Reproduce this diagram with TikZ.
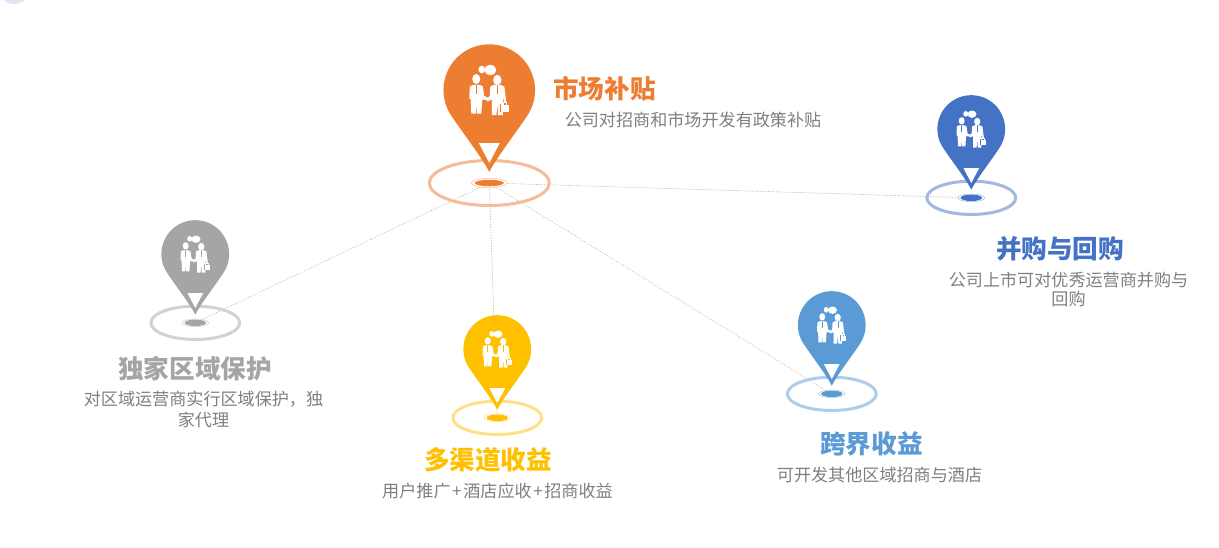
\documentclass[tikz,border=0pt]{standalone}
\usepackage{fontspec}
\setmainfont{Noto Sans CJK SC}
\usetikzlibrary{shapes.geometric,backgrounds}
\definecolor{cOrange}{HTML}{ED7D31}
\definecolor{cOrangeL}{HTML}{F4BC98}
\definecolor{cBlue}{HTML}{4472C4}
\definecolor{cBlueL}{HTML}{A2B8E1}
\definecolor{cGray}{HTML}{A5A5A5}
\definecolor{cGrayL}{HTML}{D2D2D2}
\definecolor{cGold}{HTML}{FFC000}
\definecolor{cGoldL}{HTML}{FFE08A}
\definecolor{cSky}{HTML}{5B9BD5}
\definecolor{cSkyL}{HTML}{AECDEA}
\definecolor{cBody}{HTML}{7F7F7F}
\definecolor{cLink}{HTML}{B4BC98}
\definecolor{cCorner}{HTML}{E6E2F6}
\tikzset{
  head/.style={font=\fontsize{25.6}{28}\selectfont\bfseries,inner sep=0pt},
  body/.style={font=\fontsize{17.1}{19}\selectfont,text=cBody,inner sep=0pt},
  link/.style={draw=cLink,line width=0.7pt,dotted,line cap=round},
  disc/.style={ellipse,inner sep=0pt,draw=none},
}
% \pinmark{name}{x}{y}{scale}{main}{light}
\newcommand{\pinmark}[6]{%
\begin{scope}[shift={(#2,#3)},x=#4pt,y=#4pt]
  \draw[#6,line width=3pt] (0,-93) ellipse (60 and 22.5);
  \draw[#6,line width=0.5pt,fill=white] (0,-93) ellipse (18 and 3.2+1.5/#4);
  \node[disc,fill=#5,minimum width=#4*29pt,minimum height=6.5pt] (#1) at (0,-93) {};
  \fill[#5] (0,-82) .. controls (-7,-68) and (-25,-45) .. (-38,-25.7)
     arc[start angle=214,end angle=-34,radius=45.8]
     .. controls (25,-45) and (7,-68) .. cycle;
  \fill[white] (-10.5,-53) -- (10.5,-53) -- (0,-73) -- cycle;
  % speech bubbles
  \fill[white] (1,20) ellipse (6 and 5);
  \fill[white] (-7.5,20.5) ellipse (3.4 and 3.8);
  % left person
  \fill[white] (-13,11) ellipse (4 and 5);
  \fill[white] (-19.5,3.5) .. controls (-17,6) and (-9,6) .. (-6.5,3.5)
     -- (-5,-6) -- (-1,-8) -- (-1,-10.5) -- (-7,-9.5)
     -- (-8,-23.5) -- (-12.5,-23.5) -- (-13,-12) -- (-13.5,-23.5) -- (-18,-23.5)
     -- (-18.5,-9) -- (-20,-9) -- cycle;
  % right person
  \fill[white] (8,10) ellipse (4.2 and 5.2);
  \fill[white] (1,3.5) .. controls (3.5,6) and (12,6) .. (15,3.5)
     -- (17,-12) -- (14.8,-12) -- (13.5,-6) -- (13.5,-25) -- (8.8,-25) -- (8,-13)
     -- (7.2,-25) -- (2.5,-25) -- (2.5,-9.5) -- (-2,-11.5) -- (-2.5,-8.5) -- (0.5,-6) -- cycle;
  % briefcase
  \fill[white] (12,-14.5) rectangle (19.5,-21.5);
  \draw[#5,line width=#4*0.7pt] (11.5,-14) -- (11.5,-22);
  \draw[white,line width=#4*0.8pt] (14,-14.5) -- (14,-12.5) -- (17.5,-12.5) -- (17.5,-14.5);
  % ties
  \draw[#5,line width=#4*0.6pt] (-13,5) -- (-13,-4);
  \draw[#5,line width=#4*0.6pt] (8,5) -- (8,-4);
\end{scope}}
\begin{document}
\begin{tikzpicture}[x=1pt,y=-1pt]
\useasboundingbox (0,0) rectangle (1219,547);
\begin{scope}
  \clip (0,0) rectangle (1219,547);
  \fill[cCorner] (14,-12) circle (16);
\end{scope}
\pinmark{hub}{489.3}{90}{1}{cOrange}{cOrangeL}
\pinmark{acq}{971.3}{129}{0.74}{cBlue}{cBlueL}
\pinmark{excl}{195.3}{254}{0.74}{cGray}{cGrayL}
\pinmark{multi}{497.3}{349}{0.74}{cGold}{cGoldL}
\pinmark{cross}{831.8}{325}{0.74}{cSky}{cSkyL}
\begin{pgfonlayer}{background}
  \draw[link] (hub) -- (acq);
  \draw[link] (hub) -- (excl);
  \draw[link] (hub) -- (multi);
  \draw[link] (hub) -- (cross);
\end{pgfonlayer}
\node[head,text=cOrange] (t1) at (604.5,88.5) {市场补贴};
\node[body] (b1) at (693,120) {公司对招商和市场开发有政策补贴};
\node[head,text=cBlue] (t2) at (1060,248.5) {并购与回购};
\node[body] (b2a) at (1068.5,280) {公司上市可对优秀运营商并购与};
\node[body] (b2b) at (1068.5,299) {回购};
\node[head,text=cGray] (t3) at (195,368.5) {独家区域保护};
\node[body] (b3a) at (203.5,399) {对区域运营商实行区域保护，独};
\node[body] (b3b) at (203.5,420) {家代理};
\node[head,text=cGold] (t4) at (488,459.5) {多渠道收益};
\node[body] (b4) at (497.5,491) {用户推广\hspace{1.6pt}+\hspace{1.6pt}酒店应收\hspace{1.6pt}+\hspace{1.6pt}招商收益};
\node[head,text=cSky] (t5) at (871.5,443.5) {跨界收益};
\node[body] (b5) at (879.5,475) {可开发其他区域招商与酒店};
\end{tikzpicture}
\end{document}
